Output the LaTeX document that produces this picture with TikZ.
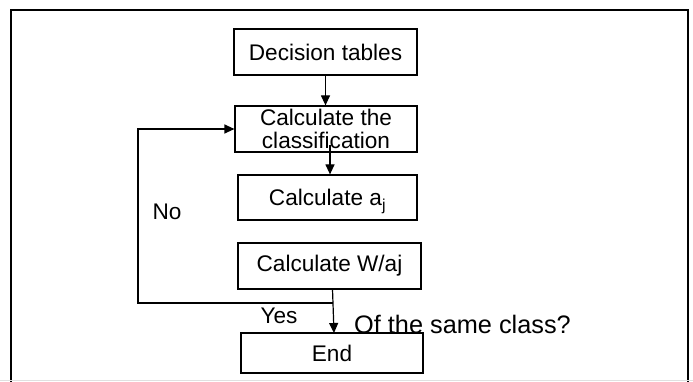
\documentclass[tikz,border=0pt]{standalone}
\usepackage{fontspec}
\setmainfont{Liberation Sans}
\usetikzlibrary{arrows.meta}
\begin{document}
\begin{tikzpicture}[x=1pt,y=-1pt,
  txt/.style={font=\fontsize{22.6}{23}\selectfont, inner sep=0pt},
  box/.style={txt, draw, line width=1.2pt, align=center},
  arr/.style={line width=1.2pt, -{Triangle[length=10pt,width=9pt]}}]
\useasboundingbox (0,0) rectangle (693,382);
% frame
\draw[line width=2pt] (11,382) -- (11,10) -- (688,10) -- (688,382);
\draw[black!12, line width=1pt] (0,380.5) -- (693,380.5);
% boxes
\node[box, minimum width=183pt, minimum height=46pt] (dt) at (325.5,52) {Decision tables};
\node[box, minimum width=182pt, minimum height=46pt] (cls) at (326,129) {Calculate the\\classification};
\node[box, minimum width=179pt, minimum height=45pt, text depth=0pt] (aj) at (327.5,197.5) {Calculate a\textsubscript{j}};
\node[box, minimum width=183pt, minimum height=46pt] (waj) at (329.5,266) {Calculate W/aj};
\node[box, minimum width=182pt, minimum height=40pt] (endn) at (332,353) {End};
% labels
\node[txt] (no) at (167,212) {No};
\node[txt] (yes) at (279,316) {Yes};
\node[txt, anchor=base west, font=\fontsize{25.3}{26}\selectfont] (q) at (354,333) {Of the same class?};
% connectors
\draw[arr] (dt.south) -- (dt.south |- cls.north);
\coordinate (c1) at (330,145);
\draw[arr] (c1) -- (c1 |- aj.north);
\coordinate (w1) at (332.5,289);
\coordinate (e1) at (334,333);
\draw[arr] (w1) -- (e1);
\coordinate (j) at (333,303);
\draw[arr] (j) -- (138,303) |- (cls.west);
\end{tikzpicture}
\end{document}
